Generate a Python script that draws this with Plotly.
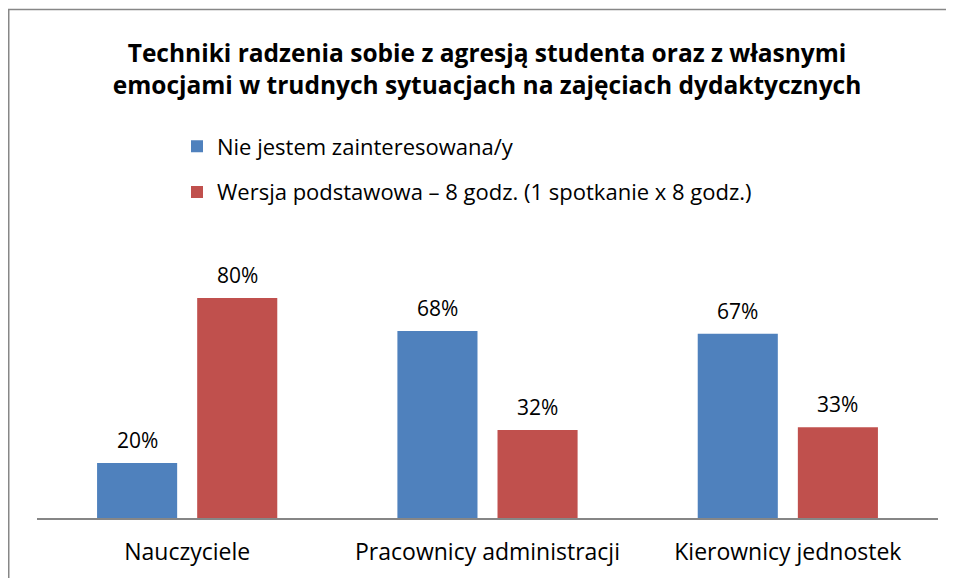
import plotly.graph_objects as go

categories = ["Nauczyciele", "Pracownicy administracji", "Kierownicy jednostek"]
series_names = ["Nie jestem zainteresowana/y",
                "Wersja podstawowa – 8 godz. (1 spotkanie x 8 godz.)"]
not_interested = [20, 68, 67]
basic_version = [80, 32, 33]
colors = ["#4F81BD", "#C0504D"]

title_text = ("Techniki radzenia sobie z agresją studenta oraz z własnymi<br>"
              "emocjami w trudnych sytuacjach na zajęciach dydaktycznych")

FONT = "Open Sans"

fig = go.Figure()
offsets = [-50, 50]
for i, (name, vals) in enumerate(zip(series_names, [not_interested, basic_version])):
    fig.add_trace(go.Bar(
        x=categories, y=vals, name=name,
        marker=dict(color=colors[i], line=dict(width=0)),
        legendgroup=f"g{i}",
    ))
    for c, v in zip(categories, vals):
        fig.add_annotation(x=c, y=v, xref="x", yref="y", text=f"{v}%",
                           showarrow=False, xshift=offsets[i], yshift=23,
                           yanchor="middle",
                           font=dict(size=21, family=FONT, color="#000000"))

W, H = 954, 578
L, R, T, B = 29, 24, 235, 68
pw = W - L - R
ph = H - T - B

fig.update_layout(
    width=W, height=H,
    margin=dict(l=L, r=R, t=T, b=B),
    paper_bgcolor="white", plot_bgcolor="white",
    barmode="group", bargap=1 / 3, bargroupgap=0.2,
    font=dict(family=FONT, color="#000000", size=22),
    title=dict(text=title_text, x=479 / W, xref="container", xanchor="center",
               y=1 - 54 / H, yref="container", yanchor="middle",
               font=dict(size=24.5, family=FONT, color="#000000", weight="bold")),
    showlegend=True,
    legend=dict(x=(169 - L) / pw, xanchor="left", y=(510 - 117.5) / ph, yanchor="top",
                orientation="v", tracegroupgap=14,
                font=dict(size=22, family=FONT, color="#000000"),
                bgcolor="rgba(0,0,0,0)"),
    xaxis=dict(showline=True, linecolor="#868686", linewidth=1.5,
               showgrid=False, ticks="", ticklabelstandoff=13,
               tickfont=dict(size=23, family=FONT, color="#000000"),
               fixedrange=True),
    yaxis=dict(range=[0, 100], visible=False, showgrid=False, zeroline=False),
    shapes=[dict(type="rect", xref="paper", yref="paper",
                 x0=(0.75 - L) / pw, x1=(W + 20 - L) / pw,
                 y0=(510 - H - 20) / ph, y1=(510 - 1.5) / ph,
                 line=dict(color="#878787", width=1.5), fillcolor="rgba(0,0,0,0)",
                 layer="below")],
)

fig.write_html("out.html")
